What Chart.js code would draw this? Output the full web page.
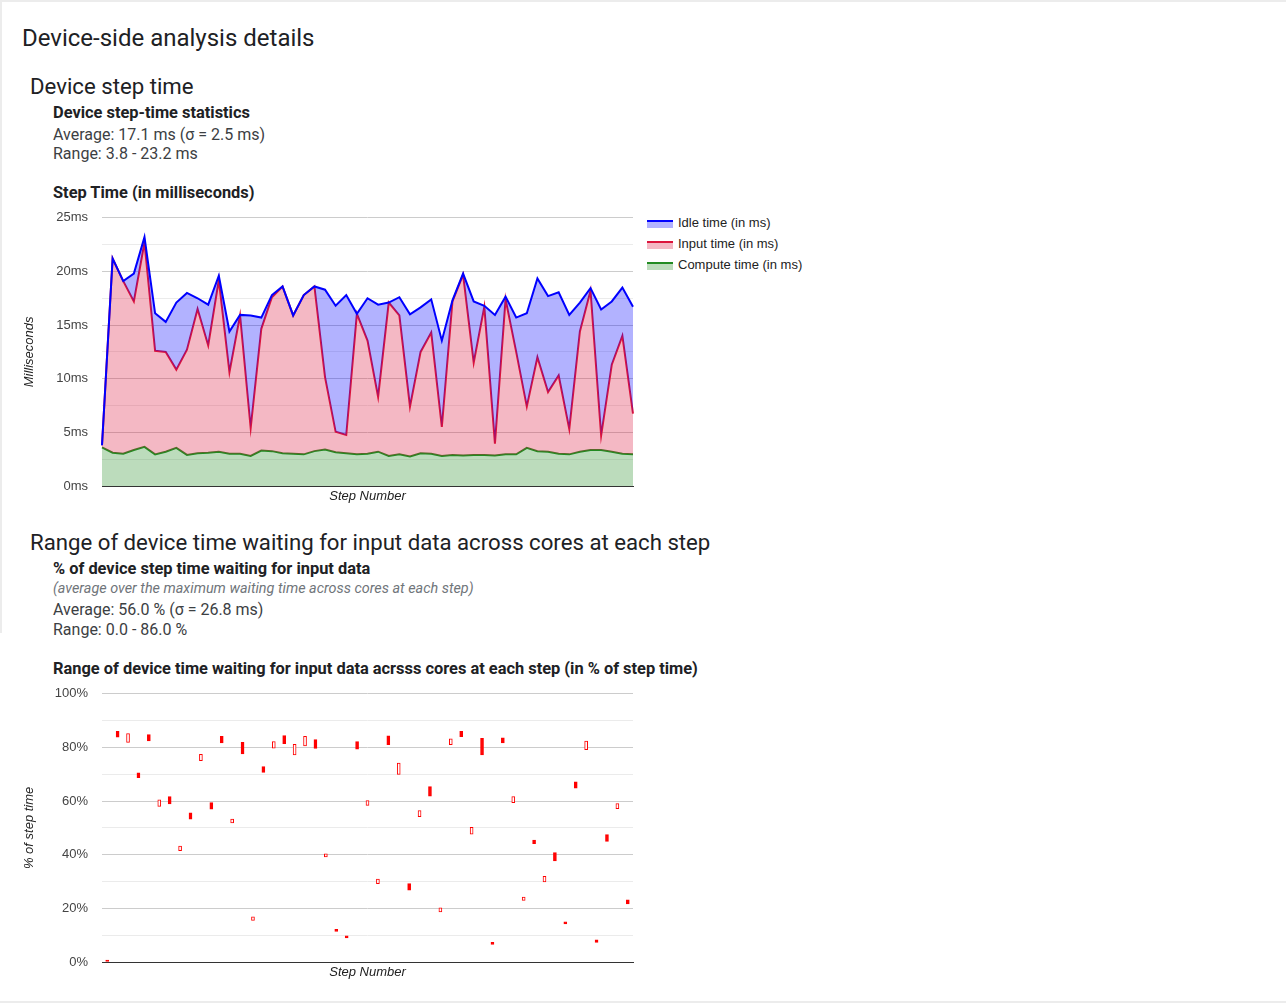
<!DOCTYPE html>
<html>
<head>
<meta charset="utf-8">
<script src="https://cdn.jsdelivr.net/npm/chart.js@4.4.1/dist/chart.umd.min.js"></script>
<style>
  body { margin: 0; background: #fff; font-family: Roboto, "Noto Sans", sans-serif; color: #202124; }
  #page { position: relative; width: 1286px; height: 1005px; overflow: hidden; }
  .frame-top { position: absolute; left: 0; top: 0; width: 1286px; height: 2px; background: #ececec; }
  .frame-left { position: absolute; left: 0; top: 0; width: 2px; height: 633px; background: #ececec; }
  .frame-bottom { position: absolute; left: 0; top: 1001px; width: 1286px; height: 2px; background: #ececec; }
  .t { position: absolute; white-space: nowrap; line-height: 1; }
  .h1 { font-size: 24px; }
  .h2 { font-size: 22.2px; }
  .b { font-size: 16.4px; font-weight: bold; color: #202124; }
  .s { font-size: 16px; color: #3c4043; }
  .i { font-size: 14.4px; font-style: italic; color: #70757a; }
  canvas { position: absolute; }
  #legend { position: absolute; left: 647px; top: 213px; font: 13px "Liberation Sans", Arial, sans-serif; color: #222; }
  #legend .item { position: relative; height: 21px; }
  #legend .sym { position: absolute; left: 0; top: 7px; width: 26px; height: 6px; }
  #legend .lab { position: absolute; left: 31px; top: 2px; white-space: nowrap; }
</style>
</head>
<body>
<div id="page">
  <div class="frame-top"></div>
  <div class="frame-left"></div>
  <div class="frame-bottom"></div>

  <div class="t h1" style="left:22px; top:26px;">Device-side analysis details</div>
  <div class="t h2" style="left:30px; top:75px;">Device step time</div>
  <div class="t b" style="left:53px; top:105px;">Device step-time statistics</div>
  <div class="t s" style="left:53px; top:127px;">Average: 17.1 ms (σ = 2.5 ms)</div>
  <div class="t s" style="left:53px; top:146px;">Range: 3.8 - 23.2 ms</div>
  <div class="t b" style="left:53px; top:185px;">Step Time (in milliseconds)</div>

  <canvas id="stepChart" style="left:0; top:196px;"></canvas>
  <div id="legend"></div>

  <div class="t h2" style="left:30px; top:531px;">Range of device time waiting for input data across cores at each step</div>
  <div class="t b" style="left:53px; top:561px;">% of device step time waiting for input data</div>
  <div class="t i" style="left:53px; top:582px;">(average over the maximum waiting time across cores at each step)</div>
  <div class="t s" style="left:53px; top:602px;">Average: 56.0 % (σ = 26.8 ms)</div>
  <div class="t s" style="left:53px; top:622px;">Range: 0.0 - 86.0 %</div>
  <div class="t b" style="left:53px; top:661px;">Range of device time waiting for input data acrsss cores at each step (in % of step time)</div>

  <canvas id="waitChart" style="left:0; top:672px;"></canvas>
</div>

<script>
// Step numbers (x categories, no tick labels shown)
const steps = [
  "1","2","3","4","5","6","7","8","9","10","11","12","13","14","15","16","17",
  "18","19","20","21","22","23","24","25","26","27","28","29","30","31","32","33",
  "34","35","36","37","38","39","40","41","42","43","44","45","46","47","48","49",
  "50","51"
];

// Per-step components of device step time (ms)
const computeMs = [
  3.6, 3.1, 3.0, 3.35, 3.65, 2.95, 3.2, 3.55, 2.9, 3.05, 3.1, 3.2, 3.0, 3.0, 2.8, 3.3, 3.25,
  3.05, 3.0, 2.95, 3.25, 3.4, 3.15, 3.05, 2.95, 3.0, 3.2, 2.8, 2.95, 2.75, 3.05, 3.0, 2.8,
  2.9, 2.85, 2.9, 2.9, 2.85, 2.95, 2.95, 3.55, 3.25, 3.2, 3.0, 2.95, 3.2, 3.35, 3.35, 3.2,
  3.0, 2.95
];
const inputMs = [
  0.2, 18.1, 16.1, 13.85, 19.05, 9.65, 9.3, 7.3, 9.8, 13.45, 10.0, 16.0, 7.6, 12.9, 2.6, 11.35, 14.35,
  15.55, 12.9, 14.85, 15.35, 6.75, 1.9, 1.7, 13.1, 10.55, 5.1, 14.3, 12.95, 4.65, 9.45, 11.3, 2.7,
  14.3, 16.85, 8.6, 13.8, 1.1, 14.45, 9.55, 3.85, 8.75, 5.55, 7.3, 2.35, 11.2, 14.85, 1.35, 8.1,
  11.0, 3.8
];
const idleMs = [
  0.0, 0.0, 0.0, 2.6, 0.5, 3.5, 2.8, 6.25, 5.3, 1.0, 3.8, 0.4, 3.8, 0.05, 10.5, 1.05, 0.2,
  0.0, 0.0, 0.0, 0.0, 8.15, 11.75, 13.05, 0.0, 3.95, 8.6, 0.0, 1.7, 8.6, 4.15, 3.1, 8.05,
  0.1, 0.1, 5.7, 0.1, 12.0, 0.25, 3.2, 8.7, 7.35, 8.95, 7.75, 10.65, 2.7, 0.25, 11.75, 5.9,
  4.5, 9.95
];
const msTickLabels = [0, 5, 10, 15, 20, 25];

// % of step time waiting for input: candle open / close per step
const waitOpen = [
  0.4, 86.0, 81.9, 70.5, 84.8, 58.0, 61.7, 41.5, 55.6, 75.1, 59.4, 84.1, 51.9, 81.9, 15.5, 72.9, 79.7,
  84.4, 77.2, 80.6, 82.9, 39.2, 12.0, 9.8, 82.2, 58.4, 29.2, 84.3, 69.9, 29.2, 54.2, 65.4, 18.7,
  81.0, 86.0, 47.7, 83.4, 7.2, 83.6, 59.4, 23.0, 45.5, 29.9, 40.8, 15.0, 67.2, 79.2, 8.3, 47.5,
  57.2, 23.2
];
const waitClose = [
  0.0, 83.8, 85.2, 68.7, 82.4, 60.5, 58.9, 43.2, 53.3, 77.4, 57.0, 81.7, 53.3, 77.6, 16.8, 70.7, 82.2,
  81.4, 81.2, 84.1, 79.6, 40.3, 11.4, 9.0, 79.4, 60.2, 30.9, 81.0, 74.2, 26.8, 56.5, 61.8, 20.2,
  83.2, 84.0, 50.2, 77.2, 6.6, 81.7, 61.7, 24.2, 44.1, 31.9, 37.7, 14.2, 64.8, 82.4, 7.3, 45.0,
  59.1, 21.7
];
const pctTickLabels = [0, 20, 40, 60, 80, 100];

const AXIS_FONT = { family: '"Liberation Sans", Arial, sans-serif', size: 13 };
const TITLE_FONT = { family: '"Liberation Sans", Arial, sans-serif', size: 13, style: 'italic' };

// running totals so the idle line sits on top (drawn last)
const inputTop = computeMs.map((c, i) => c + inputMs[i]);
const idleTop = inputTop.map((v, i) => v + idleMs[i]);

function sideScale(title, max, step, shown, suffix) {
  return {
    min: 0, max: max,
    afterFit: s => { s.width = 102; },
    border: { display: false },
    grid: {
      drawTicks: false,
      color: c => shown.includes(c.tick.value) ? '#cccccc' : '#ebebeb',
    },
    ticks: {
      stepSize: step, padding: 14, color: '#444', font: AXIS_FONT,
      callback: v => shown.includes(v) ? v + suffix : '',
    },
    title: { display: true, text: title, color: '#222', font: TITLE_FONT, padding: { top: 22, bottom: 0 } },
  };
}

function baseScale() {
  return {
    afterFit: s => { s.height = 24; },
    grid: { display: false },
    border: { display: true, color: '#333', width: 1 },
    ticks: { display: false },
    title: { display: true, text: 'Step Number', color: '#222', font: TITLE_FONT, padding: { top: 0, bottom: 6 } },
  };
}

function renderStep() {
  const canvas = document.getElementById('stepChart');
  canvas.width = 640; canvas.height = 314;
  const chart = new Chart(canvas.getContext('2d'), {
    type: 'line',
    data: {
      labels: steps,
      datasets: [
        { label: 'Idle time (in ms)', data: idleTop, borderColor: '#0000ff',
          backgroundColor: 'rgba(0, 0, 255, 0.3)', fill: '+1' },
        { label: 'Input time (in ms)', data: inputTop, borderColor: '#dc143c',
          backgroundColor: 'rgba(220, 20, 60, 0.3)', fill: '+1' },
        { label: 'Compute time (in ms)', data: computeMs, borderColor: '#228b22',
          backgroundColor: 'rgba(34, 139, 34, 0.3)', fill: 'origin' },
      ],
    },
    options: {
      responsive: false,
      animation: false,
      events: [],
      layout: { padding: { top: 12, right: 7, bottom: 0, left: 0 } },
      elements: { point: { radius: 0 }, line: { borderWidth: 2, tension: 0 } },
      plugins: { legend: { display: false }, tooltip: { enabled: false } },
      scales: {
        x: baseScale(),
        y: sideScale('Milliseconds', 25, 2.5, msTickLabels, 'ms'),
      },
    },
  });

  // html legend, same look as the area swatches
  const box = document.getElementById('legend');
  chart.data.datasets.forEach(ds => {
    const item = document.createElement('div');
    item.className = 'item';
    item.innerHTML = '<div class="sym"></div><div class="lab"></div>';
    const sym = item.querySelector('.sym');
    sym.style.borderTop = '2px solid ' + ds.borderColor;
    sym.style.background = ds.backgroundColor;
    item.querySelector('.lab').textContent = ds.label;
    box.appendChild(item);
  });
}

function renderWait() {
  const canvas = document.getElementById('waitChart');
  canvas.width = 640; canvas.height = 314;
  new Chart(canvas.getContext('2d'), {
    type: 'bar',
    data: {
      labels: steps,
      datasets: [{
        data: waitOpen.map((o, i) => [o, waitClose[i]]),
        backgroundColor: c => waitOpen[c.dataIndex] < waitClose[c.dataIndex] ? '#ffffff' : '#ff0000',
        borderColor: '#ff0000',
        borderWidth: 1,
        borderSkipped: false,
        barThickness: 3,
        minBarLength: 2,
      }],
    },
    options: {
      responsive: false,
      animation: false,
      events: [],
      layout: { padding: { top: 12, right: 7, bottom: 0, left: 0 } },
      plugins: { legend: { display: false }, tooltip: { enabled: false } },
      scales: {
        x: baseScale(),
        y: sideScale('% of step time', 100, 10, pctTickLabels, '%'),
      },
    },
  });
}

function init() {
  renderStep();
  renderWait();
}

if (document.readyState === 'loading') {
  document.addEventListener('DOMContentLoaded', init, { once: true });
} else {
  init();
}
</script>
</body>
</html>
